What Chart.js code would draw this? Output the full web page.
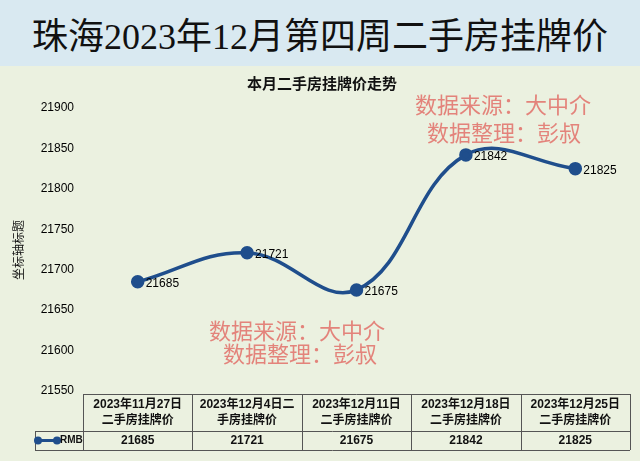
<!DOCTYPE html>
<html>
<head>
<meta charset="utf-8">
<script src="https://cdn.jsdelivr.net/npm/chart.js@4"></script>
<style>
	html, body { margin: 0; padding: 0; width: 640px; height: 461px; overflow: hidden; background: #ebf1e0; }
	.title {
		height: 66px; background: #d9e9f1; text-align: center;
		font: 36px "Liberation Serif", "Noto Sans CJK SC", serif; line-height: 74px; color: #111;
	}
	.chart-wrap { position: relative; width: 640px; height: 395px; }
</style>
</head>
<body>
<div class="title">珠海2023年12月第四周二手房挂牌价</div>
<div class="chart-wrap"><canvas id="chart"></canvas></div>
<script>
// data
const categories = [
	['2023年11月27日', '二手房挂牌价'],
	['2023年12月4日二', '手房挂牌价'],
	['2023年12月11日', '二手房挂牌价'],
	['2023年12月18日', '二手房挂牌价'],
	['2023年12月25日', '二手房挂牌价']
];
const prices = [21685, 21721, 21675, 21842, 21825];
const seriesName = 'RMB';
const yMin = 21550, yMax = 21900, yStep = 50;

const chartTitle = '本月二手房挂牌价走势';
const axisTitle = '坐标轴标题';
const watermark = ['数据来源：大中介', '数据整理：彭叔'];

const FONT = '"Liberation Sans", "Noto Sans CJK SC", sans-serif';
const LINE = '#1f4e8c';
const OFF = 66; // canvas top on page

const extras = {
	id: 'extras',
	afterDatasetsDraw(chart) {
		const {ctx, chartArea: area, scales: {x, y}} = chart;
		const meta = chart.getDatasetMeta(0);
		ctx.save();

		// value labels next to points
		ctx.font = '12px ' + FONT;
		ctx.fillStyle = '#000';
		ctx.textAlign = 'left';
		ctx.textBaseline = 'middle';
		meta.data.forEach((pt, i) => {
			ctx.fillText(String(prices[i]), pt.x + 8, pt.y + 2);
		});

		// subtitle
		ctx.font = 'bold 15px ' + FONT;
		ctx.textAlign = 'center';
		ctx.fillStyle = '#111';
		ctx.fillText(chartTitle, 322, 85 - OFF);

		// y axis title
		ctx.font = '12px ' + FONT;
		ctx.translate(20, 250 - OFF);
		ctx.rotate(-Math.PI / 2);
		ctx.fillText(axisTitle, 0, 0);
		ctx.setTransform(1, 0, 0, 1, 0, 0);

		// watermarks
		ctx.font = '22px "Noto Sans CJK SC", sans-serif';
		ctx.fillStyle = 'rgba(226, 112, 104, 0.85)';
		ctx.fillText(watermark[0], 503, 105 - OFF);
		ctx.fillText(watermark[1], 504, 133 - OFF);
		ctx.fillText(watermark[0], 297, 331 - OFF);
		ctx.fillText(watermark[1], 300, 354 - OFF);

		// data table
		const colW = (area.right - area.left) / categories.length;
		const top = area.bottom + 3, mid = top + 37, bot = mid + 19;
		const keyLeft = 35;
		ctx.strokeStyle = '#555';
		ctx.lineWidth = 1;
		ctx.beginPath();
		ctx.moveTo(area.left, top + 0.5); ctx.lineTo(area.right, top + 0.5);
		ctx.moveTo(keyLeft, mid + 0.5); ctx.lineTo(area.right, mid + 0.5);
		ctx.moveTo(keyLeft, bot + 0.5); ctx.lineTo(area.right, bot + 0.5);
		ctx.moveTo(keyLeft + 0.5, mid); ctx.lineTo(keyLeft + 0.5, bot);
		for (let i = 0; i <= categories.length; i++) {
			const cx = Math.round(area.left + i * colW) + 0.5;
			ctx.moveTo(cx, top); ctx.lineTo(cx, bot);
		}
		ctx.stroke();

		ctx.fillStyle = '#111';
		ctx.textAlign = 'center';
		categories.forEach((lines, i) => {
			const cx = x.getPixelForValue(i);
			ctx.font = 'bold 12px ' + FONT;
			ctx.fillText(lines[0], cx, top + 11);
			ctx.fillText(lines[1], cx, top + 27);
			ctx.fillText(String(prices[i]), cx, mid + 10);
		});

		// legend key
		const ky = mid + 9.5;
		ctx.strokeStyle = LINE;
		ctx.lineWidth = 3;
		ctx.beginPath();
		ctx.moveTo(37, ky); ctx.lineTo(57, ky);
		ctx.stroke();
		ctx.fillStyle = LINE;
		[38, 57].forEach(px => {
			ctx.beginPath(); ctx.arc(px, ky, 4, 0, Math.PI * 2); ctx.fill();
		});
		ctx.fillStyle = '#111';
		ctx.font = 'bold 10px ' + FONT;
		ctx.textAlign = 'left';
		ctx.fillText(seriesName, 60, ky);

		ctx.restore();
	}
};

new Chart(document.getElementById('chart'), {
	type: 'line',
	data: {
		labels: categories,
		datasets: [{
			label: seriesName,
			data: prices,
			borderColor: LINE,
			backgroundColor: LINE,
			borderWidth: 3.5,
			pointRadius: 5,
			pointHoverRadius: 5,
			tension: 0.4
		}]
	},
	options: {
		responsive: true,
		maintainAspectRatio: false,
		animation: false,
		events: [],
		layout: {padding: {top: 42, right: 10, left: 0, bottom: 0}},
		plugins: {legend: {display: false}, tooltip: {enabled: false}},
		scales: {
			x: {
				offset: true,
				grid: {display: false, offset: true},
				border: {display: false},
				ticks: {display: false},
				afterFit(s) { s.height = 70; }
			},
			y: {
				min: yMin,
				max: yMax,
				grid: {display: false},
				border: {display: false},
				ticks: {
					stepSize: yStep, padding: 1, color: '#000',
					font: {size: 12, family: FONT},
					callback: v => String(v)
				},
				afterFit(s) { s.width = 83; }
			}
		}
	},
	plugins: [extras]
});
</script>
</body>
</html>
